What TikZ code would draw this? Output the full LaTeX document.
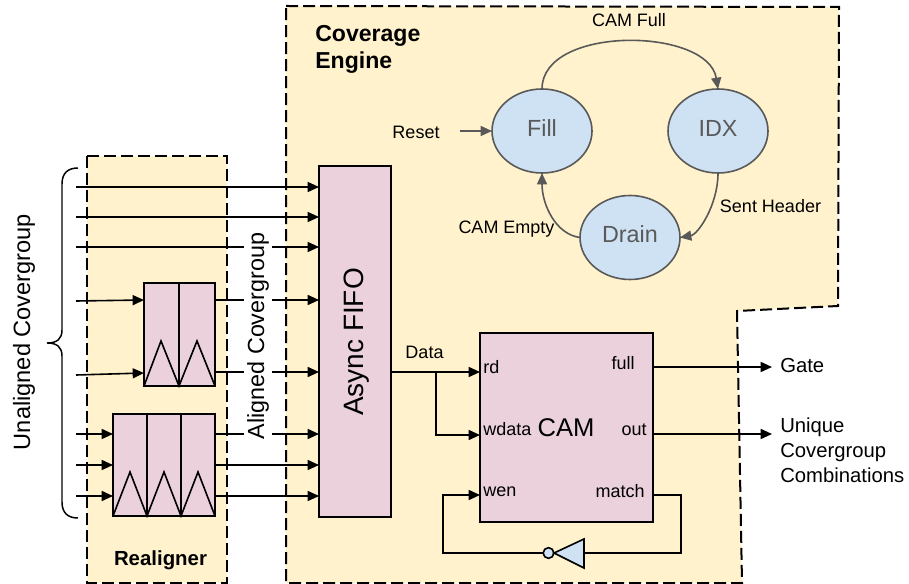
\documentclass[tikz,border=0pt]{standalone}
\usepackage{fontspec}
\setmainfont{Liberation Sans}
\usetikzlibrary{arrows.meta,shapes.geometric}
\definecolor{panel}{HTML}{FFF2CC}
\definecolor{block}{HTML}{EAD1DC}
\definecolor{state}{HTML}{CFE2F3}
\definecolor{ink}{HTML}{595959}
\newcommand{\fsz}[1]{\fontsize{#1}{#1}\selectfont}
\tikzset{
  x=0.75pt,y=-0.75pt,
  panelbox/.style={draw=black,fill=panel,line width=1.5pt,dash pattern=on 9pt off 3.75pt},
  blockbox/.style={draw=black,fill=block,line width=1.2pt,inner sep=0pt,outer sep=0pt},
  wire/.style={draw=black,line width=1.2pt},
  arr/.style={wire,-{Triangle[length=8.5pt,width=7.5pt]}},
  statenode/.style={ellipse,draw=ink,fill=state,line width=1.2pt,minimum width=75pt,minimum height=63pt,inner sep=0pt,outer sep=0pt,text=ink,font=\fsz{17.5}},
  trans/.style={draw=ink,line width=1.2pt,-{Triangle[length=8.5pt,width=7.5pt]}},
  lbl/.style={inner sep=0pt,font=\fsz{13.5}},
  biglbl/.style={inner sep=0pt,font=\fsz{15.2}},
  tri/.style={draw=black,line width=1.2pt},
}
\begin{document}
\begin{tikzpicture}
\useasboundingbox (0,0) rectangle (909,584);
% panels
\draw[panelbox] (87,156) rectangle (227,583);
\draw[panelbox] (286,6) -- (839,7) -- (838,306) -- (737,311) -- (742,583) -- (286,583) -- cycle;
% blocks
\node[blockbox,minimum width=54pt,minimum height=263.25pt,anchor=north west] (fifo) at (319,166) {};
\node[rotate=90,font=\fsz{21}] (fifolabel) at (357,342) {Async FIFO};
\node[blockbox,minimum width=53.25pt,minimum height=77.25pt,anchor=north west] (r1) at (144,283) {};
\node[blockbox,minimum width=76.5pt,minimum height=76.5pt,anchor=north west] (r2) at (113,414) {};
\node[blockbox,minimum width=129.75pt,minimum height=141.75pt,anchor=north west] (cam) at (480,333) {};
% register internals
\draw[tri] (179,283) -- (179,386);
\draw[tri] (144,386) -- (161,341) -- (179,386) -- (197,341) -- (215,386);
\draw[tri] (147,414) -- (147,516);
\draw[tri] (181,414) -- (181,516);
\draw[tri] (113,516) -- (130,472) -- (147,516) -- (164,472) -- (181,516) -- (198,472) -- (215,516);
% brace
\draw[line width=1.1pt] (78,168) .. controls (68,168) and (62,173) .. (62,184) -- (62,330) .. controls (62,339) and (57,343) .. (47,343) .. controls (57,343) and (62,347) .. (62,356) -- (62,502) .. controls (62,513) and (68,518) .. (78,518);
% inputs
\coordinate (u1) at (76,187);
\coordinate (u2) at (76,217);
\coordinate (u3) at (76,247);
\coordinate (u4) at (76,301);
\coordinate (u5) at (76,375);
\coordinate (u6) at (76,434);
\coordinate (u7) at (76,465);
\coordinate (u8) at (76,496);
\draw[arr] (u1) -- (u1 -| fifo.west);
\draw[arr] (u2) -- (u2 -| fifo.west);
\draw[arr] (u3) -- (u3 -| fifo.west);
\draw[arr] (u4) -- ([yshift=0.75pt]u4 -| r1.west);
\draw[arr] (u5) -- ([yshift=1.5pt]u5 -| r1.west);
\draw[arr] (u6) -- (u6 -| r2.west);
\draw[arr] (u7) -- (u7 -| r2.west);
\draw[arr] (u8) -- (u8 -| r2.west);
% outputs
\coordinate (o1) at (215,300);
\coordinate (o2) at (215,372);
\coordinate (o3) at (215,434);
\coordinate (o4) at (215,465);
\coordinate (o5) at (215,496);
\draw[arr] (o1) -- (o1 -| fifo.west);
\draw[arr] (o2) -- (o2 -| fifo.west);
\draw[arr] (o3) -- (o3 -| fifo.west);
\draw[arr] (o4) -- (o4 -| fifo.west);
\draw[arr] (o5) -- (o5 -| fifo.west);
% side labels
\node[rotate=90,fill=white,inner sep=0pt,minimum height=21pt,minimum width=155pt,font=\fsz{17.5}] (aligned) at (258,336) {Aligned Covergroup};
\node[rotate=90,font=\fsz{17.7},inner sep=0pt] (unaligned) at (24,332) {Unaligned Covergroup};
\node[font=\bfseries\fsz{15.3},inner sep=0pt] (realigner) at (160.5,560) {Realigner};
\node[font=\bfseries\fontsize{17.3}{20.3}\selectfont,align=left,inner sep=0pt,anchor=west] (engine) at (315,49) {Coverage\\Engine};
% state machine
\node[statenode] (fill) at (542,131) {\raisebox{4.5pt}{Fill}};
\node[statenode] (idx) at (718,131) {\raisebox{4.5pt}{IDX}};
\node[statenode] (drain) at (630,237.5) {\raisebox{5.5pt}{Drain}};
\coordinate (resetstart) at (460,131);
\draw[trans] (resetstart) -- (fill.west);
\draw[trans] (fill.north) .. controls +(0,-64) and +(-10,-62) .. (idx.north);
\draw[trans] (idx.south) .. controls +(0,32) and +(18,-3) .. (drain.east);
\draw[trans] (drain.west) .. controls +(-24,-3) and +(0,32) .. (fill.south);
\node[lbl] (reset) at (416,132) {Reset};
\node[lbl] (camfull) at (629,20) {CAM Full};
\node[lbl] (sent) at (770.5,206) {Sent Header};
\node[lbl] (empty) at (506.5,229) {CAM Empty};
% CAM wiring
\coordinate (branch) at (436,372);
\coordinate (fifoout) at (fifo.east |- branch);
\draw[arr] (fifoout) -- (fifoout -| cam.west);
\coordinate (wdatain) at (436,435);
\draw[arr] (branch) -- (wdatain) -- (wdatain -| cam.west);
\node[lbl] (data) at (424.5,352) {Data};
\node[lbl,anchor=west] (rd) at (483,367) {rd};
\node[lbl,anchor=west] (wdata) at (483,429) {wdata};
\node[lbl,anchor=west] (wen) at (483,492) {wen};
\node[lbl,anchor=east] (full) at (635,363) {full};
\node[lbl,anchor=east] (out) at (647,430) {out};
\node[lbl,anchor=east] (match) at (645,491) {match};
\node[inner sep=0pt,font=\fsz{19.2}] (camlabel) at (566,428) {CAM};
\coordinate (gatept) at (772,367);
\coordinate (outpt) at (772,434);
\draw[arr] (gatept -| cam.east) -- (gatept);
\draw[arr] (outpt -| cam.east) -- (outpt);
\node[biglbl,anchor=west] (gate) at (780,366) {Gate};
\node[font=\fontsize{15.2}{18.7}\selectfont,inner sep=0pt,align=left,anchor=west] (unique) at (780,450) {Unique\\Covergroup\\Combinations};
% inverter and feedback
\coordinate (invin) at (584,553);
\coordinate (matchout) at (653,495);
\coordinate (wenin) at (443,495);
\node[circle,draw=black,fill=state,line width=1.2pt,minimum size=8pt,inner sep=0pt,outer sep=0pt] (bubble) at (548.5,553) {};
\draw[wire,fill=state,line join=miter] (584,539) -- (584,568) -- (554,553) -- cycle;
\draw[wire] (matchout) -- (681,495) -- (681,553) -- (invin);
\draw[arr] (bubble.west) -- (443,553) -- (wenin) -- (wenin -| cam.west);
\end{tikzpicture}
\end{document}
